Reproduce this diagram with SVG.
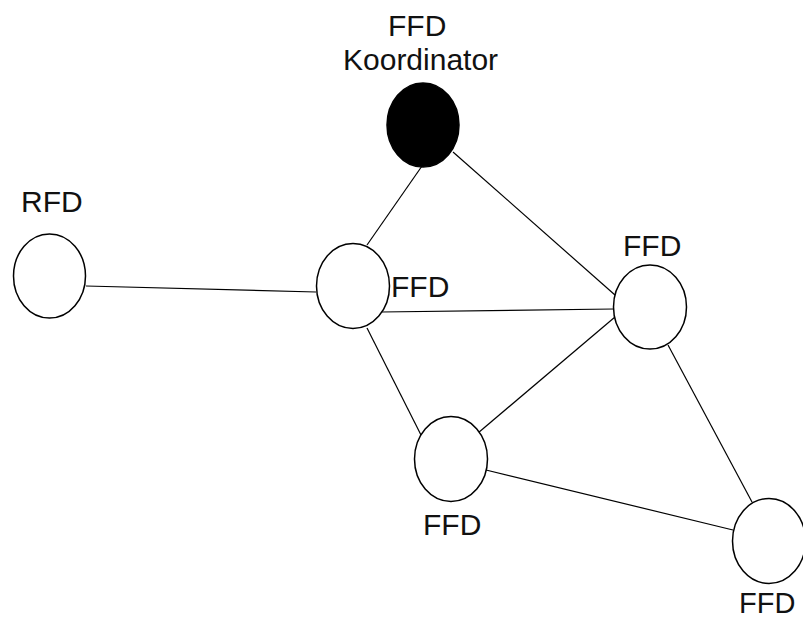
<svg xmlns="http://www.w3.org/2000/svg" width="803" height="621" viewBox="0 0 803 621">
<style>
.n{fill:#fff;stroke:#000;stroke-width:1.5}
.c{fill:#000;stroke:#000;stroke-width:1.5}
.e line{stroke:#000;stroke-width:1.2}
text{font-family:"Liberation Sans",Arial,sans-serif;font-size:30px;fill:#111}
</style>
<rect width="803" height="621" fill="#fff"/>
<g id="edges" class="e">
<line x1="86" y1="286" x2="316" y2="292"/>
<line x1="422" y1="166" x2="367" y2="245"/>
<line x1="453" y1="152" x2="615" y2="295"/>
<line x1="381" y1="312" x2="614" y2="309"/>
<line x1="367" y1="328" x2="421" y2="435"/>
<line x1="615" y1="317" x2="478" y2="433"/>
<line x1="668" y1="345" x2="752" y2="502"/>
<line x1="486" y1="470" x2="733" y2="530"/>
</g>
<g id="coord"><ellipse class="c" cx="423" cy="125" rx="36" ry="42"/><text x="388" y="36">FFD</text><text x="343" y="70">Koordinator</text></g>
<g id="rfd"><ellipse class="n" cx="49.5" cy="276" rx="36" ry="42"/><text x="21" y="212">RFD</text></g>
<g id="ffd1"><ellipse class="n" cx="353" cy="286" rx="36.5" ry="42.5"/><text x="391" y="297">FFD</text></g>
<g id="ffd2"><ellipse class="n" cx="650" cy="307" rx="36.5" ry="42"/><text x="623" y="256">FFD</text></g>
<g id="ffd3"><ellipse class="n" cx="451" cy="459" rx="36.5" ry="42.5"/><text x="423" y="535">FFD</text></g>
<g id="ffd4"><ellipse class="n" cx="769" cy="541" rx="36.5" ry="42.5"/><text x="739" y="613" style="font-size:29px">FFD</text></g>
</svg>
